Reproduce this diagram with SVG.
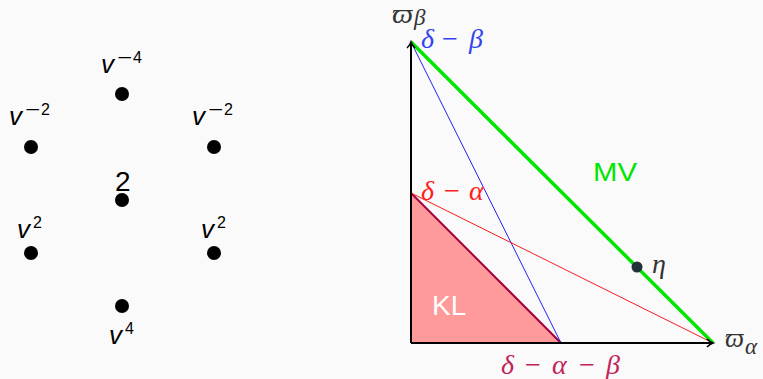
<svg xmlns="http://www.w3.org/2000/svg" width="763" height="379" viewBox="0 0 763 379">
<defs>
<style>
.dot{fill:#000}
.lab{font-family:"Liberation Sans","DejaVu Sans",sans-serif;font-size:28px;fill:#000}
.lv{font-family:"Liberation Sans","DejaVu Sans",sans-serif;font-size:26px;font-style:italic;fill:#000}
.sup{font-family:"Liberation Sans","DejaVu Sans",sans-serif;font-size:16px;fill:#000}
.math{font-family:"Liberation Serif","DejaVu Serif",serif;font-style:italic;font-size:28px}
.sub{font-family:"Liberation Serif","DejaVu Serif",serif;font-style:italic;font-size:23px;fill:#333}
.pi{font-family:"Liberation Serif","DejaVu Serif",serif;font-style:italic;font-size:27px;fill:#333}
.op{font-family:"Liberation Serif","DejaVu Serif",serif;font-style:normal;font-size:28px}
.axis{stroke:#000;stroke-width:2;fill:none}
</style>
<marker id="arr" viewBox="0 0 10 10" refX="8" refY="5" markerWidth="10" markerHeight="10" markerUnits="userSpaceOnUse" orient="auto">
<path d="M2,1 Q5,4 8,5 Q5,6 2,9" fill="none" stroke="#000" stroke-width="1.6"/>
</marker>
</defs>
<rect width="763" height="379" fill="#fafafa"/>

<g id="node-vm4">
<circle class="dot" cx="122" cy="94" r="7"/>
<text class="lv" x="101" y="73">v</text><text class="sup" y="63"><tspan x="117" textLength="15" lengthAdjust="spacingAndGlyphs">−</tspan><tspan x="133">4</tspan></text>
</g>
<g id="node-vm2-left">
<circle class="dot" cx="31" cy="147" r="7"/>
<text class="lv" x="9" y="125">v</text><text class="sup" y="115"><tspan x="25" textLength="15" lengthAdjust="spacingAndGlyphs">−</tspan><tspan x="41">2</tspan></text>
</g>
<g id="node-vm2-right">
<circle class="dot" cx="214" cy="147" r="7"/>
<text class="lv" x="192" y="125">v</text><text class="sup" y="115"><tspan x="208" textLength="15" lengthAdjust="spacingAndGlyphs">−</tspan><tspan x="224">2</tspan></text>
</g>
<g id="node-2">
<circle class="dot" cx="122" cy="200" r="7"/>
<text class="lab" x="115" y="191">2</text>
</g>
<g id="node-v2-left">
<circle class="dot" cx="31" cy="253" r="7"/>
<text class="lv" x="17" y="238">v</text><text class="sup" x="33" y="228">2</text>
</g>
<g id="node-v2-right">
<circle class="dot" cx="214" cy="253" r="7"/>
<text class="lv" x="201" y="238">v</text><text class="sup" x="217" y="228">2</text>
</g>
<g id="node-v4">
<circle class="dot" cx="122" cy="306" r="7"/>
<text class="lv" x="109" y="344">v</text><text class="sup" x="125" y="334">4</text>
</g>

<g id="kl-region">
<polygon points="411,193 411,343 561,343" fill="#ff9a9a"/>
<line x1="411" y1="193" x2="561" y2="343" stroke="#a3003e" stroke-width="2"/>
<text x="432" y="315" font-family="Liberation Sans, sans-serif" font-size="28" fill="#fff">KL</text>
</g>

<g id="connectors">
<line x1="411" y1="42" x2="561" y2="343" stroke="#2222ee" stroke-width="1"/>
<line x1="411" y1="193" x2="713" y2="343" stroke="#ff1a1a" stroke-width="1"/>
<line x1="411" y1="42" x2="713" y2="343" stroke="#00e600" stroke-width="3.5"/>
<path class="axis" d="M411,343 V42" marker-end="url(#arr)"/>
<path class="axis" d="M411,343 H713" marker-end="url(#arr)"/>
</g>

<g id="node-eta">
<circle cx="637" cy="267" r="5.5" fill="#22313a"/>
<text class="math" x="652" y="273" fill="#333">η</text>
</g>
<g id="label-mv">
<text x="593" y="181" font-family="Liberation Sans, sans-serif" font-size="26" textLength="44" lengthAdjust="spacingAndGlyphs" fill="#00e600">MV</text>
</g>
<g id="axis-labels">
<text class="pi" x="392" y="23" textLength="21" lengthAdjust="spacingAndGlyphs">ϖ</text>
<text class="sub" x="414" y="25">β</text>
<text class="pi" x="725" y="347" textLength="19" lengthAdjust="spacingAndGlyphs">ϖ</text>
<text class="sub" x="745" y="354">α</text>
</g>
<g id="label-db" fill="#3344ee">
<text class="math" x="421" y="48">δ</text>
<text class="op" x="442" y="48" textLength="16" lengthAdjust="spacingAndGlyphs">−</text>
<text class="math" x="469" y="48">β</text>
</g>
<g id="label-da" fill="#ff2020">
<text class="math" x="421" y="200">δ</text>
<text class="op" x="444" y="200" textLength="16" lengthAdjust="spacingAndGlyphs">−</text>
<text class="math" x="469" y="200">α</text>
</g>
<g id="label-dab" fill="#c0245a">
<text class="math" x="501" y="374">δ</text>
<text class="op" x="525" y="374" textLength="16" lengthAdjust="spacingAndGlyphs">−</text>
<text class="math" x="552" y="374">α</text>
<text class="op" x="579" y="374" textLength="16" lengthAdjust="spacingAndGlyphs">−</text>
<text class="math" x="606" y="374">β</text>
</g>
</svg>
